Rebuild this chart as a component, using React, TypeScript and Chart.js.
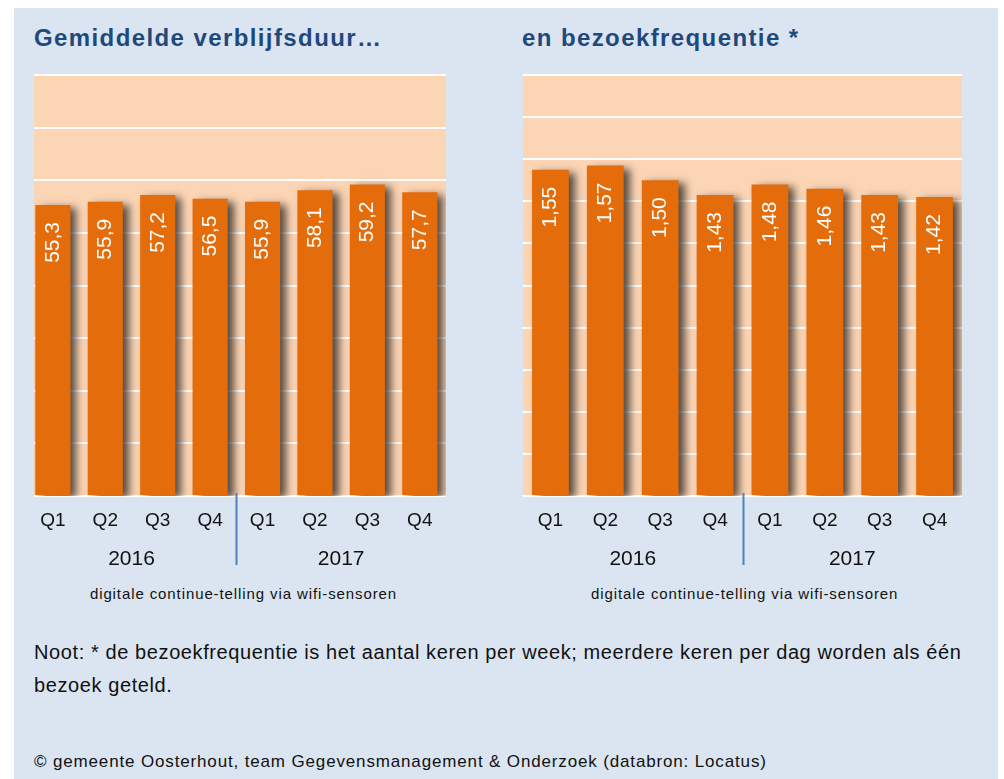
import React, { useEffect, useRef } from "react";
import { Chart, registerables } from "chart.js";

Chart.register(...registerables);

// ---- data ----
const quarterLabels = ["Q1", "Q2", "Q3", "Q4", "Q1", "Q2", "Q3", "Q4"];
const yearLabels = ["2016", "2017"];
const stayDuration = [55.3, 55.9, 57.2, 56.5, 55.9, 58.1, 59.2, 57.7];
const visitFrequency = [1.55, 1.57, 1.5, 1.43, 1.48, 1.46, 1.43, 1.42];
const stayAxisMax = 80;
const stayAxisStep = 10;
const freqAxisMax = 2;
const freqAxisStep = 0.2;

const titleLeft = "Gemiddelde verblijfsduur…";
const titleRight = "en bezoekfrequentie *";
const sourceText = "digitale continue-telling via wifi-sensoren";
const noteLines = [
  "Noot: * de bezoekfrequentie is het aantal keren per week; meerdere keren per dag worden als één",
  "bezoek geteld.",
];
const footerText =
  "© gemeente Oosterhout, team Gegevensmanagement & Onderzoek (databron: Locatus)";

// ---- styles ----
const FONT = '"Liberation Sans", Arial, Helvetica, sans-serif';
const PANEL_BG = "#DBE5F1";
const PLOT_BG = "#FCD5B5";
const BAR_COLOR = "#E46C0A";
const TITLE_COLOR = "#1F497D";
const SEP_COLOR = "#4F81BD";
const TEXT_COLOR = "#111111";

type PanelProps = {
  values: number[];
  decimals: number;
  yMax: number;
  yStep: number;
  xMin: number;
  left: number;
  width: number;
  padLeft: number;
  padRight: number;
};

function BarPanel(props: PanelProps) {
  const ref = useRef<HTMLCanvasElement | null>(null);
  useEffect(() => {
    const { values, decimals, yMax, yStep, xMin, padLeft, padRight } = props;
    const fmt = (v: number) => v.toFixed(decimals).replace(".", ",");
    const groupSize = quarterLabels.length / yearLabels.length;

    const decor = {
      id: "decor",
      beforeDraw(chart: any) {
        const { ctx, chartArea: a } = chart;
        ctx.save();
        ctx.fillStyle = PLOT_BG;
        ctx.fillRect(a.left, a.top, a.right - a.left, a.bottom - a.top);
        ctx.restore();
      },
      beforeDatasetsDraw(chart: any) {
        const ctx = chart.ctx;
        ctx.save();
        ctx.shadowColor = "rgba(45,40,35,0.8)";
        ctx.shadowBlur = 8;
        ctx.shadowOffsetX = 6;
        ctx.shadowOffsetY = 3;
      },
      afterDatasetsDraw(chart: any) {
        const ctx = chart.ctx;
        ctx.restore();
        const meta = chart.getDatasetMeta(0);
        ctx.save();
        ctx.fillStyle = "#FFFFFF";
        ctx.font = `21px ${FONT}`;
        ctx.textAlign = "right";
        ctx.textBaseline = "middle";
        meta.data.forEach((bar: any, i: number) => {
          ctx.save();
          ctx.translate(bar.x, bar.y + 17);
          ctx.rotate(-Math.PI / 2);
          ctx.fillText(fmt(values[i]), 0, 0);
          ctx.restore();
        });
        ctx.restore();
      },
      afterDraw(chart: any) {
        const { ctx, chartArea: a } = chart;
        const x = chart.scales.x;
        ctx.save();
        ctx.fillStyle = TEXT_COLOR;
        ctx.font = `21px ${FONT}`;
        ctx.textAlign = "center";
        ctx.textBaseline = "middle";
        yearLabels.forEach((yr, g) => {
          const cx = x.getPixelForValue(g * groupSize + (groupSize - 1) / 2);
          ctx.fillText(yr, cx, a.bottom + 63.5);
        });
        ctx.strokeStyle = SEP_COLOR;
        ctx.lineWidth = 2;
        for (let g = 1; g < yearLabels.length; g++) {
          const sx = Math.round(x.getPixelForValue(g * groupSize - 0.5)) + 0.5;
          ctx.beginPath();
          ctx.moveTo(sx, a.bottom - 3);
          ctx.lineTo(sx, a.bottom + 69);
          ctx.stroke();
        }
        ctx.restore();
      },
    };

    const chart = new Chart(ref.current as HTMLCanvasElement, {
      type: "bar",
      data: {
        datasets: [
          {
            data: values.map((v, i) => ({ x: i, y: v })),
            backgroundColor: BAR_COLOR,
            borderWidth: 0,
            barPercentage: 0.67,
            categoryPercentage: 1,
          } as any,
        ],
      },
      options: {
        animation: false,
        responsive: false,
        maintainAspectRatio: false,
        layout: { padding: { left: padLeft, right: padRight, top: 15, bottom: 35.2 } },
        plugins: { legend: { display: false }, tooltip: { enabled: false } },
        scales: {
          x: {
            type: "linear",
            offset: false,
            min: xMin,
            max: quarterLabels.length - 0.5,
            grid: { display: false, drawTicks: false },
            border: { display: false },
            afterBuildTicks: (s: any) => {
              s.ticks = quarterLabels.map((_, i) => ({ value: i }));
            },
            ticks: {
              autoSkip: false,
              maxRotation: 0,
              padding: 13,
              color: TEXT_COLOR,
              font: { size: 19, family: FONT },
              callback: (_v: any, i: number) => quarterLabels[i],
            },
          },
          y: {
            min: 0,
            max: yMax,
            ticks: { display: false, stepSize: yStep },
            grid: { color: "#FFFFFF", lineWidth: 2, drawTicks: false },
            border: { display: false },
          },
        },
      } as any,
      plugins: [decor],
    });
    return () => chart.destroy();
  }, []);
  return (
    <canvas
      ref={ref}
      width={props.width}
      height={520}
      style={{ position: "absolute", left: props.left, top: 60, width: props.width, height: 520 }}
    />
  );
}

export default function App() {
  const titleStyle: React.CSSProperties = {
    position: "absolute",
    top: 26,
    fontSize: 24,
    lineHeight: "24px",
    fontWeight: "bold",
    color: TITLE_COLOR,
    letterSpacing: "1.4px",
    whiteSpace: "nowrap",
  };
  const subStyle: React.CSSProperties = {
    position: "absolute",
    top: 585.6,
    width: 400,
    textAlign: "center",
    fontSize: 15,
    lineHeight: "15px",
    letterSpacing: "0.9px",
    color: TEXT_COLOR,
    whiteSpace: "nowrap",
  };
  return (
    <div
      style={{
        position: "fixed",
        left: 0,
        top: 0,
        width: 1004,
        height: 779,
        background: "#FFFFFF",
        overflow: "hidden",
        fontFamily: FONT,
      }}
    >
      <div style={{ position: "absolute", left: 14, top: 8, width: 984, height: 771, background: PANEL_BG }} />
      <div style={{ ...titleStyle, left: 34 }}>{titleLeft}</div>
      <div style={{ ...titleStyle, left: 522 }}>{titleRight}</div>
      <BarPanel
        values={stayDuration}
        decimals={1}
        yMax={stayAxisMax}
        yStep={stayAxisStep}
        xMin={-0.36}
        left={14}
        width={480}
        padLeft={20}
        padRight={48}
      />
      <BarPanel
        values={visitFrequency}
        decimals={2}
        yMax={freqAxisMax}
        yStep={freqAxisStep}
        xMin={-0.5}
        left={503}
        width={494}
        padLeft={20}
        padRight={35}
      />
      <div style={{ ...subStyle, left: 243.5 - 200 }}>{sourceText}</div>
      <div style={{ ...subStyle, left: 744.7 - 200 }}>{sourceText}</div>
      <div
        style={{
          position: "absolute",
          left: 34,
          top: 636,
          fontSize: 20,
          lineHeight: "33px",
          letterSpacing: "0.6px",
          color: TEXT_COLOR,
          whiteSpace: "nowrap",
        }}
      >
        {noteLines.map((l, i) => (
          <div key={i}>{l}</div>
        ))}
      </div>
      <div
        style={{
          position: "absolute",
          left: 34,
          top: 753,
          fontSize: 17,
          lineHeight: "17px",
          letterSpacing: "0.85px",
          color: TEXT_COLOR,
          whiteSpace: "nowrap",
        }}
      >
        {footerText}
      </div>
    </div>
  );
}
